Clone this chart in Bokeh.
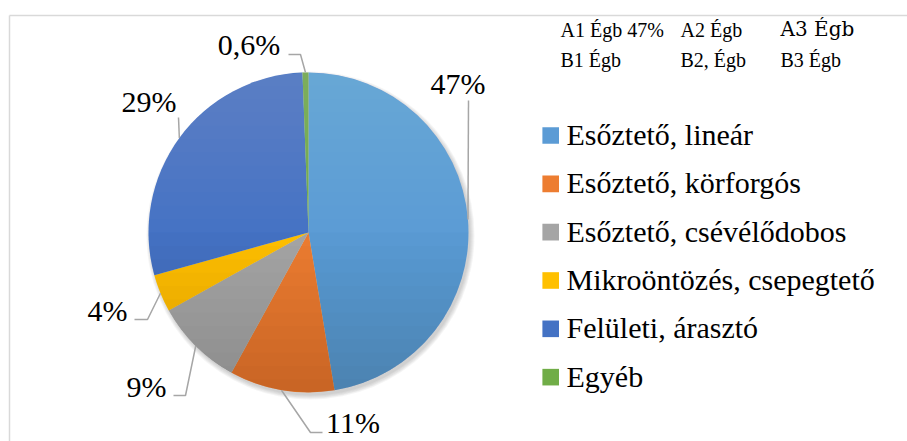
import numpy as np
from bokeh.plotting import figure
from bokeh.models import Range1d
from bokeh.embed import file_html
from bokeh.resources import INLINE
from bokeh.core.properties import value

# ---------------- data ----------------
categories = ["Esőztető, lineár", "Esőztető, körforgós", "Esőztető, csévélődobos",
              "Mikroöntözés, csepegtető", "Felületi, árasztó", "Egyéb"]
shares = [47.4, 10.6, 8.9, 3.8, 28.7, 0.6]
share_labels = ["47%", "11%", "9%", "4%", "29%", "0,6%"]
colors = ["#5B9BD5", "#ED7D31", "#A5A5A5", "#FFC000", "#4472C4", "#70AD47"]

# ---------------- layout (page pixels) ----------------
W, H = 907, 441
def X(px):
    return px
def Y(py):
    return H - py

BASE_FIX = 11
CXp, CYp, R = 308, 232, 160
label_pos = [(457.5, 94), (352.5, 433), (146, 397), (107, 321), (148.5, 112), (248.5, 55)]
leader_bends = [[(468, 100)], [(310, 432), (322, 432)], [(185, 395), (173, 395)],
                [(147, 319), (134, 319)], [(178, 117)], [(300, 54), (288, 54)]]
FONT = "Liberation Serif"

p = figure(width=W, height=H, output_backend="svg", toolbar_location=None,
           x_range=Range1d(0, W), y_range=Range1d(0, H),
           x_axis_location=None, y_axis_location=None, min_border=0)
p.grid.visible = False
p.outline_line_color = None

n = len(categories)
rows = np.arange(n)

# diagnostics
p.text(x=[560], y=[Y(40)], text=["A1 Égb 47%"], text_font=value("Liberation Serif"), text_font_size="20px")
p.text(x=[680], y=[Y(40)], text=["A2 Égb"], text_font=value("serif"), text_font_size="20px")
p.text(x=[780], y=[Y(40)], text=["A3 Égb"], text_font=value("DejaVu Serif"), text_font_size="20px")
p.text(x=[560], y=[Y(70)], text=["B1 Égb"], text_font=value("Liberation Serif"), text_font_size="20px",
       text_color="#000000")
p.text(x=[680], y=[Y(70)], text=["B2, Égb"], text_font=value("Liberation Serif"), text_font_size="20px")
p.text(x=[780], y=[Y(70)], text=["B3 Égb", "B4"], text_font=value("Liberation Serif"), text_font_size="20px")

p.text(x=[X(q[0]) for q in label_pos], y=[Y(q[1] - BASE_FIX) for q in label_pos], text=share_labels,
       text_font=value(FONT), text_font_size="30px", text_color="#000000",
       text_align="center", text_baseline="alphabetic")
p.text(x=[X(566)] * n, y=[Y(145 + 48.33 * i - BASE_FIX) for i in rows], text=categories,
       text_font=value(FONT), text_font_size="30px", text_color="#000000",
       text_align="left", text_baseline="alphabetic")

p.segment(x0=[X(9), X(9)], y0=[Y(15), Y(15)], x1=[X(920), X(9)], y1=[Y(15), Y(460)],
          line_color="#D9D9D9", line_width=1.5)

cx, cy = X(CXp), Y(CYp)
for k in range(5):
    p.circle(x=[cx + 2], y=[cy - 3], radius=R + 4 - k, fill_color="#404040",
             fill_alpha=0.05, line_color=None)

fr = np.array(shares) / np.sum(shares)
cum = np.concatenate([[0], np.cumsum(fr)])
start = np.pi / 2 - 2 * np.pi * cum[:-1]
end = np.pi / 2 - 2 * np.pi * cum[1:]
p.wedge(x=cx, y=cy, radius=R, start_angle=start, end_angle=end, direction="clock",
        fill_color=colors, line_color=None)

M = 12
for k in range(1, M + 1):
    depth = R * k / M
    yy = np.linspace(cy + R - depth, cy + R, 80)
    half = np.sqrt(np.clip(R ** 2 - (yy - cy) ** 2, 0, None))
    p.harea(y=yy, x1=cx - half, x2=cx + half, fill_color="white", fill_alpha=0.16 / M)
    yy2 = np.linspace(cy - R, cy - R + depth, 80)
    half2 = np.sqrt(np.clip(R ** 2 - (yy2 - cy) ** 2, 0, None))
    p.harea(y=yy2, x1=cx - half2, x2=cx + half2, fill_color="black", fill_alpha=0.12 / M)

mid = (start + end) / 2
xs, ys = [], []
for i in range(len(shares)):
    ex, ey = cx + R * np.cos(mid[i]), cy + R * np.sin(mid[i])
    xs.append([ex] + [X(b[0]) for b in leader_bends[i]])
    ys.append([ey] + [Y(b[1]) for b in leader_bends[i]])
p.multi_line(xs=xs, ys=ys, line_color="#A6A6A6", line_width=1.5)

p.rect(x=[X(550.2)] * n, y=[Y(135 + 48.33 * i) for i in rows], width=16.6, height=16.6,
       fill_color=colors, line_color=None)

open("out.html", "w").write(file_html(p, INLINE))
